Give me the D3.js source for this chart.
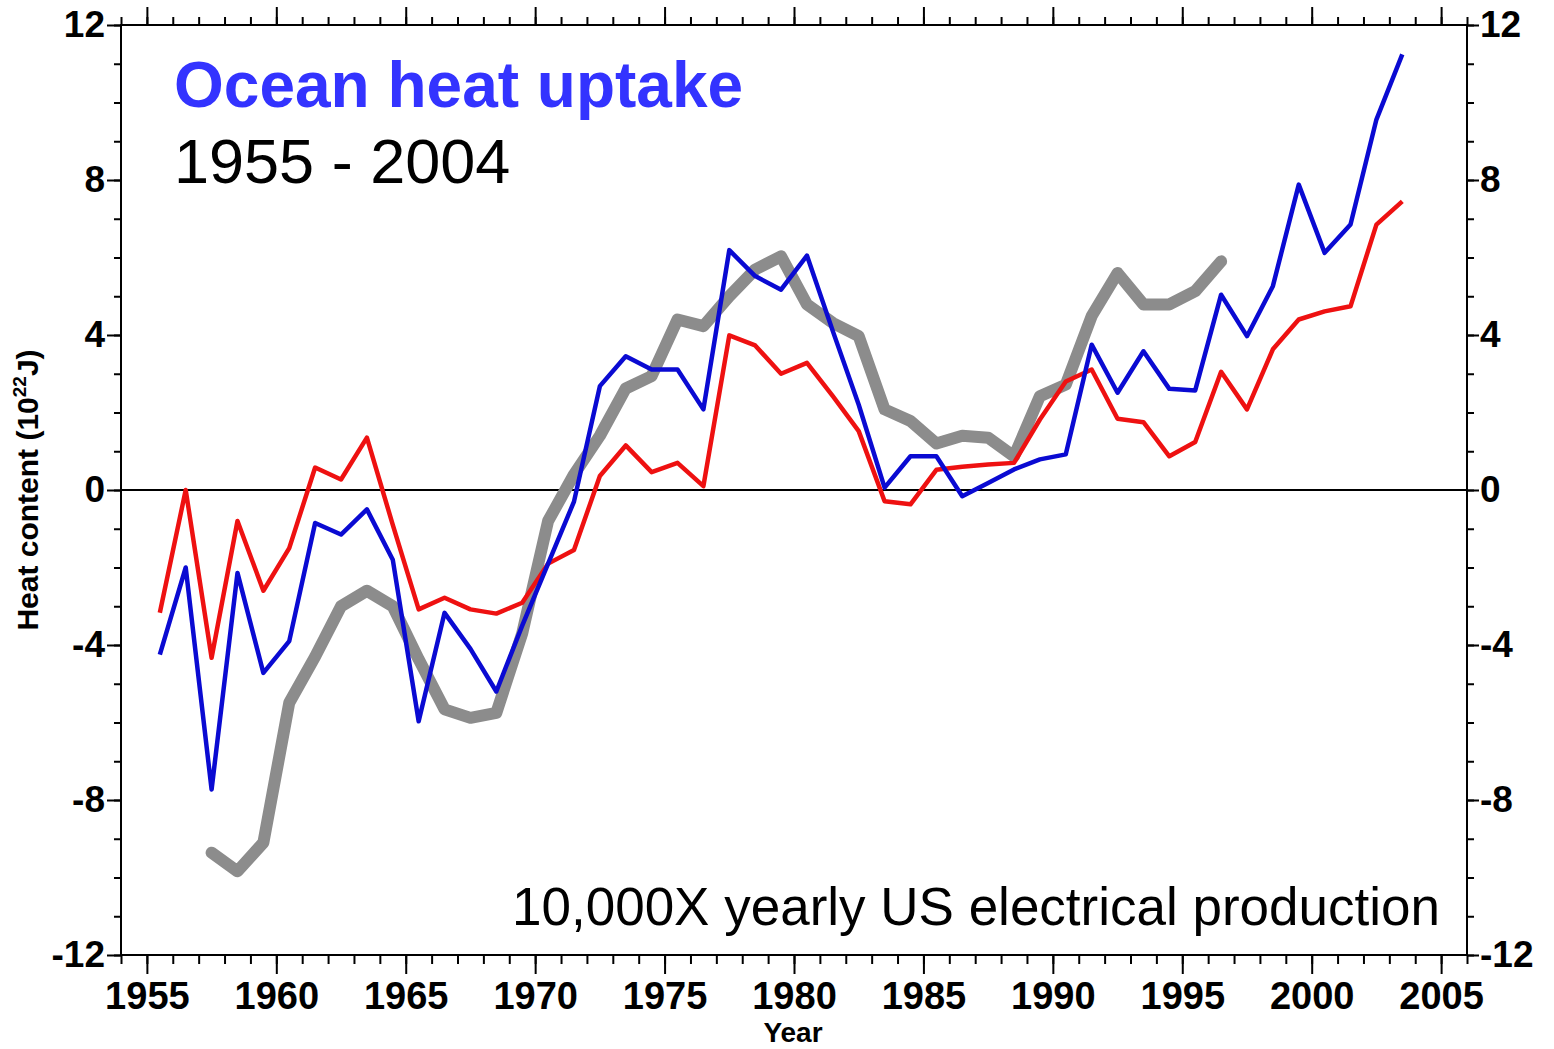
<!DOCTYPE html>
<html>
<head>
<meta charset="utf-8">
<script src="https://cdn.jsdelivr.net/npm/d3@7"></script>
<style>
  html, body { margin: 0; padding: 0; background: #fff; }
  svg { display: block; }
  text { font-family: "Liberation Sans", Arial, Helvetica, sans-serif; }
</style>
</head>
<body>
<svg id="chart" width="1554" height="1049"></svg>
<script>
// ---- data (values in 10^22 J) ----
const years = [1955,1956,1957,1958,1959,1960,1961,1962,1963,1964,
               1965,1966,1967,1968,1969,1970,1971,1972,1973,1974,
               1975,1976,1977,1978,1979,1980,1981,1982,1983,1984,
               1985,1986,1987,1988,1989,1990,1991,1992,1993,1994,
               1995,1996,1997,1998,1999,2000,2001,2002,2003];
const blueValues = [-4.25,-2.0,-7.73,-2.14,-4.72,-3.9,-0.85,-1.15,-0.5,-1.8,
                    -5.97,-3.17,-4.1,-5.2,-3.5,-1.9,-0.3,2.68,3.45,3.11,
                    3.11,2.08,6.19,5.52,5.17,6.05,4.1,2.2,0.06,0.87,
                    0.87,-0.16,0.18,0.53,0.79,0.92,3.75,2.51,3.58,2.61,
                    2.57,5.04,3.97,5.26,7.88,6.12,6.85,9.56,11.24];
const redValues = [-3.17,0.0,-4.33,-0.8,-2.6,-1.5,0.58,0.27,1.35,-0.9,
                   -3.08,-2.78,-3.08,-3.19,-2.91,-1.9,-1.55,0.36,1.15,0.46,
                   0.7,0.1,3.99,3.73,3.0,3.28,2.42,1.52,-0.29,-0.37,
                   0.52,0.6,0.66,0.7,1.82,2.8,3.11,1.84,1.75,0.87,
                   1.24,3.05,2.08,3.63,4.4,4.61,4.74,6.85,7.45];
const grayYears = [1957,1958,1959,1960,1961,1962,1963,1964,1965,1966,
                   1967,1968,1969,1970,1971,1972,1973,1974,1975,1976,
                   1977,1978,1979,1980,1981,1982,1983,1984,1985,1986,
                   1987,1988,1989,1990,1991,1992,1993,1994,1995,1996];
const grayValues = [-9.36,-9.84,-9.1,-5.49,-4.3,-3.0,-2.6,-3.0,-4.37,-5.66,
                    -5.88,-5.75,-3.7,-0.8,0.4,1.4,2.62,2.94,4.4,4.23,
                    5.0,5.69,6.03,4.79,4.31,3.97,2.08,1.78,1.2,1.4,
                    1.35,0.87,2.42,2.72,4.49,5.6,4.79,4.79,5.13,5.9];
const xMajorTicks = [1955,1960,1965,1970,1975,1980,1985,1990,1995,2000,2005];
const xMinorTicks = d3.range(1954, 2007);
const yMajorTicks = [-12,-8,-4,0,4,8,12];
const yMinorTicks = d3.range(-12, 13);

const titleText = "Ocean heat uptake";
const subtitleText = "1955 - 2004";
const noteText = "10,000X yearly US electrical production";
const xTitle = "Year";

// ---- layout ----
const L = 121, R = 1467, T = 25, B = 955;
const svg = d3.select("#chart");
const x = d3.scaleLinear().domain([1954, 2006]).range([L, R]);
const y = d3.scaleLinear().domain([-12, 12]).range([B, T]);
const mid = 0.5; // annual values plotted at mid-year
const fmt = d => String(d);  // plain hyphen-minus like the original

function styleAxis(g) {
  g.select(".domain").remove();
  g.selectAll(".tick line").attr("stroke", "#000").attr("stroke-width", 2);
}
function styleLabels(size) {
  return g => g.selectAll(".tick text")
    .attr("font-size", size).attr("font-weight", "bold").attr("fill", "#000")
    .attr("font-family", "'Liberation Sans', Arial, sans-serif");
}

// bottom
svg.append("g").attr("transform", `translate(0,${B})`)
  .call(d3.axisBottom(x).tickValues(xMinorTicks).tickSize(9).tickFormat(""))
  .call(styleAxis);
svg.append("g").attr("transform", `translate(0,${B})`)
  .call(d3.axisBottom(x).tickValues(xMajorTicks).tickSize(19).tickPadding(8).tickFormat(fmt))
  .call(styleAxis).call(styleLabels(38));
// top
svg.append("g").attr("transform", `translate(0,${T})`)
  .call(d3.axisTop(x).tickValues(xMinorTicks).tickSize(8).tickFormat(""))
  .call(styleAxis);
svg.append("g").attr("transform", `translate(0,${T})`)
  .call(d3.axisTop(x).tickValues(xMajorTicks).tickSize(18).tickFormat(""))
  .call(styleAxis);
// left
svg.append("g").attr("transform", `translate(${L},0)`)
  .call(d3.axisLeft(y).tickValues(yMinorTicks).tickSize(7).tickFormat(""))
  .call(styleAxis);
svg.append("g").attr("transform", `translate(${L},0)`)
  .call(d3.axisLeft(y).tickValues(yMajorTicks).tickSize(14).tickPadding(2).tickFormat(fmt))
  .call(styleAxis).call(styleLabels(37));
// right
svg.append("g").attr("transform", `translate(${R},0)`)
  .call(d3.axisRight(y).tickValues(yMinorTicks).tickSize(7).tickFormat(""))
  .call(styleAxis);
svg.append("g").attr("transform", `translate(${R},0)`)
  .call(d3.axisRight(y).tickValues(yMajorTicks).tickSize(12).tickPadding(1).tickFormat(fmt))
  .call(styleAxis).call(styleLabels(37));

// frame
svg.append("rect").attr("x", L).attr("y", T).attr("width", R - L).attr("height", B - T)
  .attr("fill", "none").attr("stroke", "#000").attr("stroke-width", 2);

// zero line
svg.append("line").attr("x1", L).attr("x2", R).attr("y1", y(0)).attr("y2", y(0))
  .attr("stroke", "#000").attr("stroke-width", 2);

// ---- lines ----
const line = d3.line().x(d => x(d[0] + mid)).y(d => y(d[1]));
svg.append("path").datum(grayYears.map((yr, i) => [yr, grayValues[i]]))
  .attr("d", line).attr("fill", "none").attr("stroke", "#8c8c8c")
  .attr("stroke-width", 12).attr("stroke-linejoin", "round").attr("stroke-linecap", "round");
svg.append("path").datum(years.map((yr, i) => [yr, redValues[i]]))
  .attr("d", line).attr("fill", "none").attr("stroke", "#ee1111")
  .attr("stroke-width", 4.5).attr("stroke-linejoin", "round");
svg.append("path").datum(years.map((yr, i) => [yr, blueValues[i]]))
  .attr("d", line).attr("fill", "none").attr("stroke", "#0a0ad2")
  .attr("stroke-width", 4.5).attr("stroke-linejoin", "round");

// ---- texts ----
svg.append("text").attr("x", 174).attr("y", 107)
  .attr("font-size", 64).attr("font-weight", "bold").attr("fill", "#3333ff")
  .text(titleText);
svg.append("text").attr("x", 174).attr("y", 183)
  .attr("font-size", 63).attr("fill", "#000")
  .text(subtitleText);
svg.append("text").attr("x", 1440).attr("y", 925).attr("text-anchor", "end")
  .attr("font-size", 53).attr("fill", "#000")
  .text(noteText);
svg.append("text").attr("x", 793).attr("y", 1042).attr("text-anchor", "middle")
  .attr("font-size", 28).attr("font-weight", "bold").attr("fill", "#000")
  .text(xTitle);
const yl = svg.append("text").attr("transform", "translate(38,490) rotate(-90)")
  .attr("text-anchor", "middle").attr("font-size", 30).attr("font-weight", "bold").attr("fill", "#000");
yl.append("tspan").text("Heat content (10");
yl.append("tspan").attr("font-size", 19).attr("dy", -12).text("22");
yl.append("tspan").attr("dy", 12).text("J)");
</script>
</body>
</html>
